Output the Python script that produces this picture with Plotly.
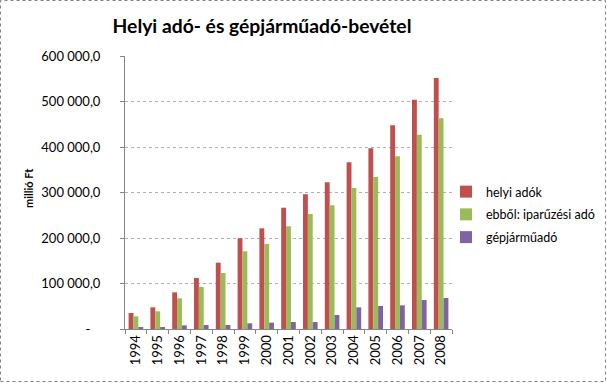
import plotly.graph_objects as go

years = ["1994", "1995", "1996", "1997", "1998", "1999", "2000", "2001",
         "2002", "2003", "2004", "2005", "2006", "2007", "2008"]
helyi_adok = [35200, 47700, 80600, 112100, 145800, 199400, 221300, 266600,
              296000, 322400, 366400, 397200, 447700, 504000, 551700]
iparuzesi_ado = [27900, 38900, 67400, 92300, 123100, 170800, 186800, 225700,
                 252800, 271900, 309900, 334100, 379600, 427100, 463100]
gepjarmuado = [3700, 3500, 8100, 8800, 8800, 12500, 13900, 15400,
               15400, 30800, 47600, 50500, 52000, 63700, 68100]

series_names = ["helyi adók", "ebből: iparűzési adó", "gépjárműadó"]
series_colors = ["#C0504D", "#9BBB59", "#8064A2"]

y_tickvals = [0, 100000, 200000, 300000, 400000, 500000, 600000]
y_ticktext = ["-\u00a0\u00a0\u00a0", "100 000,0", "200 000,0", "300 000,0", "400 000,0",
              "500 000,0", "600 000,0"]

title_text = "Helyi adó- és gépjárműadó-bevétel"
y_title = "millió Ft"

W, H = 607, 383
L, R, T, B = 125, 155, 56, 54
pw, ph = W - L - R, H - T - B

fig = go.Figure()
for i, (name, vals, col) in enumerate(zip(series_names,
                                          [helyi_adok, iparuzesi_ado, gepjarmuado],
                                          series_colors)):
    fig.add_trace(go.Bar(x=years, y=vals, name=name, marker_color=col,
                         marker_line_width=0, legendgroup=f"g{i}"))

fig.update_layout(
    width=W, height=H,
    margin=dict(l=L, r=R, t=T, b=B, pad=0, autoexpand=False),
    paper_bgcolor="white", plot_bgcolor="white",
    barmode="group", bargap=0.33, bargroupgap=0,
    font=dict(family="Lato", size=12, color="#000000"),
    title=dict(text=title_text, x=262 / W, xref="container", xanchor="center",
               y=1 - 26 / H, yref="container", yanchor="middle",
               font=dict(family="Lato", size=19.3, color="#000000", weight="bold")),
    legend=dict(x=446 / W, xref="container", xanchor="left",
                y=1 - 177 / H, yref="container", yanchor="top",
                font=dict(family="Lato", size=12.5), tracegroupgap=3.5,
                itemwidth=30, bgcolor="rgba(0,0,0,0)"),
    showlegend=True,
)
fig.update_xaxes(type="category", tickangle=-90, ticks="outside", tickson="boundaries",
                 ticklen=4, tickcolor="#868686", showline=True, linecolor="#868686",
                 linewidth=1, showgrid=False, tickfont=dict(family="Lato", size=13),
                 automargin=False, fixedrange=True)
fig.update_yaxes(range=[0, 600000], tickvals=y_tickvals, ticktext=y_ticktext,
                 ticks="outside", ticklen=4, tickcolor="#868686", showline=True,
                 linecolor="#868686", linewidth=1, showgrid=True, gridcolor="#B0B0B0",
                 gridwidth=1, griddash="dot", ticklabelstandoff=17,
                 tickfont=dict(family="Lato", size=13), zeroline=False,
                 automargin=False, fixedrange=True)

fig.add_annotation(text=y_title, textangle=-90, xref="paper", yref="paper",
                   x=(29 - L) / pw, y=(329 - 188) / ph, xanchor="center", yanchor="middle",
                   showarrow=False, font=dict(family="Lato", size=11, weight="bold"))

fig.add_shape(type="rect", xref="paper", yref="paper",
              x0=(0.5 - L) / pw, x1=(605.5 - L) / pw,
              y0=(329 - 381.5) / ph, y1=(329 - 0.5) / ph,
              line=dict(color="#808080", width=1, dash="dot"), fillcolor="rgba(0,0,0,0)",
              layer="below")

fig.write_html("out.html", config={"displayModeBar": False},
               post_script="document.body.style.margin='0';document.body.style.overflow='hidden';")
